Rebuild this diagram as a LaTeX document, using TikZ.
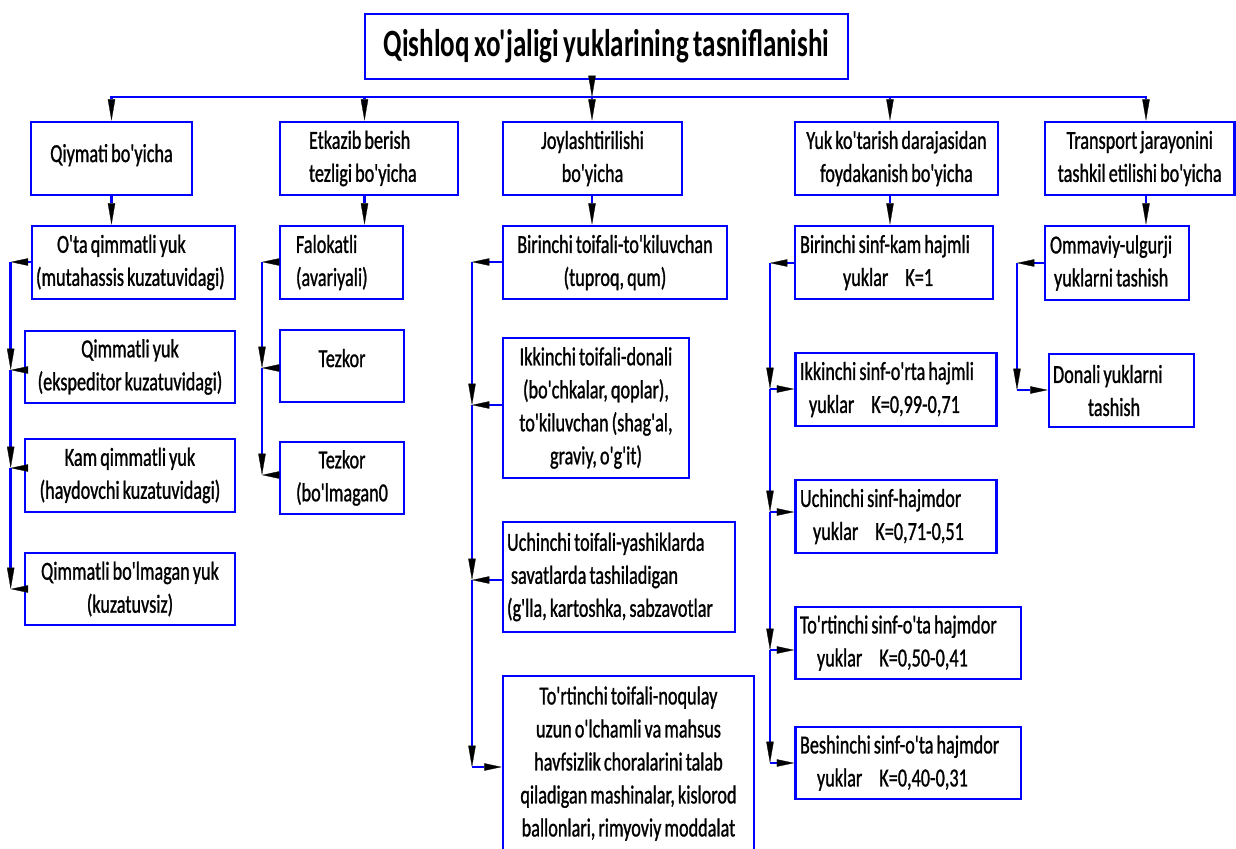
\documentclass[tikz,border=0pt]{standalone}
\usepackage{fontspec}
\setmainfont{Carlito}[FakeStretch=0.7, WordSpace=0.75, Ligatures=TeXOff,
  UprightFeatures={FakeBold=1}]
\usetikzlibrary{arrows.meta}

\definecolor{lineblue}{RGB}{0,0,255}

% one unbreakable line with the font's own word spacing
\newcommand\boxline[1]{\mbox{\spaceskip=0pt\xspaceskip=0pt\relax #1}}

\tikzset{
  conn/.style={draw=lineblue, line width=2pt},
  box/.style={draw=lineblue, line width=2pt, rectangle, inner sep=0pt,
    font=\fontsize{19.5}{24.75}\selectfont},
  % a box given by its left, top, right and bottom edges
  place/.style n args={4}{at={({(#1+#3)/2},{(#2+#4)/2})},
    minimum width={(#3-#1)*0.75pt}, minimum height={(#4-#2)*0.75pt}},
  tipdown/.style={-{Triangle[length=16pt,width=5.5pt,color=black,line width=0.2pt]}},
  tipside/.style={-{Triangle[length=13pt,width=5.5pt,color=black,line width=0.2pt]}},
  bothdown/.style={{Triangle[length=16pt,width=5.5pt,color=black,line width=0.2pt]}-{Triangle[length=16pt,width=5.5pt,color=black,line width=0.2pt]}},
}

\begin{document}
\begin{tikzpicture}[x=0.75pt,y=-0.75pt]
\useasboundingbox (0,0) rectangle (1236,849);
\fill[white] (0,0) rectangle (1236,849);
\clip (0,0) rectangle (1236,849);

% ---- title ----
\node[box, place={365}{14}{848}{79}, font=\fontsize{29}{34}\selectfont\bfseries] (title)
  {Qishloq xo'jaligi yuklarining tasniflanishi};

% ---- first level ----
\node[box, place={31}{122}{192}{195}] (a) {\raisebox{8.25pt}{Qiymati bo'yicha}};
\node[box, place={280}{122}{458}{195}, align=left, text width=90pt] (b)
  {\boxline{Etkazib berish}\\\boxline{tezligi bo'yicha}};
\node[box, place={503}{122}{682}{195}, align=center] (c) {Joylashtirilishi\\bo'yicha};
\node[box, place={795}{122}{998}{195}, align=center] (d)
  {Yuk ko'tarish darajasidan\\foydakanish bo'yicha};
\node[box, place={1045}{122}{1234.5}{195}, align=center] (e)
  {Transport jarayonini\\tashkil etilishi bo'yicha};

% ---- by value ----
\node[box, place={32}{226}{235}{299}, align=left, text width=146.25pt] (a1)
  {\boxline{\hspace*{15.75pt}O'ta qimmatli yuk}\\\boxline{(mutahassis kuzatuvidagi)}};
\node[box, place={25}{331}{235}{403}, align=center] (a2)
  {Qimmatli yuk\\(ekspeditor kuzatuvidagi)};
\node[box, place={25}{439}{235}{512}, align=center] (a3)
  {Kam qimmatli yuk\\(haydovchi kuzatuvidagi)};
\node[box, place={25}{553}{235}{625}, align=center] (a4)
  {Qimmatli bo'lmagan yuk\\(kuzatuvsiz)};

% ---- by delivery speed ----
\node[box, place={280}{226}{403}{299}, align=left, text width=68.25pt] (b1)
  {\boxline{Falokatli}\\\boxline{(avariyali)}};
\node[box, place={280}{330}{404}{402}] (b2) {\raisebox{12pt}{Tezkor}};
\node[box, place={280}{442}{404}{514}, align=center] (b3) {Tezkor\\(bo'lmagan0};

% ---- by placement ----
\node[box, place={503}{226}{727}{299}, align=center] (c1)
  {Birinchi toifali-to'kiluvchan\\(tuproq, qum)};
\node[box, place={503}{338}{689}{478}, align=center] (c2)
  {Ikkinchi toifali-donali\\(bo'chkalar, qoplar),\\to'kiluvchan (shag'al,\\graviy, o'g'it)};
\node[box, place={503}{522}{735}{632}, align=left, text width=168pt] (c3)
  {\boxline{Uchinchi toifali-yashiklarda}\\\boxline{\hspace*{3pt}savatlarda tashiladigan}\\\boxline{(g'lla, kartoshka, sabzavotlar}};
\node[box, place={503}{676}{754}{851}, align=center] (c4)
  {To'rtinchi toifali-noqulay\\uzun o'lchamli va mahsus\\havfsizlik choralarini talab\\qiladigan mashinalar, kislorod\\ballonlari, rimyoviy moddalat};

% ---- by load capacity use ----
\node[box, place={795}{226}{993}{299}, align=left, text width=141pt] (d1)
  {\boxline{Birinchi sinf-kam hajmli}\\\boxline{\hspace*{32.25pt}yuklar\hspace{12.75pt}K=1}};
\node[box, place={795.5}{353}{996.5}{426}, align=left, text width=144pt] (d2)
  {\boxline{Ikkinchi sinf-o'rta hajmli}\\\boxline{\hspace*{6.75pt}yuklar\hspace{12.75pt}K=0,99-0,71}};
\node[box, place={795.5}{480}{996.5}{553}, align=left, text width=144pt] (d3)
  {\boxline{Uchinchi sinf-hajmdor}\\\boxline{\hspace*{9.75pt}yuklar\hspace{12.75pt}K=0,71-0,51}};
\node[box, place={795.5}{607}{1021}{679}, align=left, text width=162.4pt] (d4)
  {\boxline{To'rtinchi sinf-o'ta hajmdor}\\\boxline{\hspace*{12.75pt}yuklar\hspace{12.75pt}K=0,50-0,41}};
\node[box, place={795.5}{727}{1021}{799}, align=left, text width=162.4pt] (d5)
  {\boxline{Beshinchi sinf-o'ta hajmdor}\\\boxline{\hspace*{12.75pt}yuklar\hspace{12.75pt}K=0,40-0,31}};

% ---- by transport process ----
\node[box, place={1045}{226}{1189}{300}, align=left, text width=100.5pt] (e1)
  {\boxline{Ommaviy-ulgurji}\\\boxline{\hspace*{3pt}yuklarni tashish}};
\node[box, place={1049}{354}{1194}{427}, align=left, text width=102.75pt] (e2)
  {\boxline{Donali yuklarni}\\\boxline{\hspace*{26.25pt}tashish}};

% ---- column and bus coordinates ----
\coordinate (bus) at (0,97);
\coordinate (xa) at (111.5,0);
\coordinate (xb) at (364.5,0);
\coordinate (xc) at (592,0);
\coordinate (xd) at (890,0);
\coordinate (xe) at (1146,0);

\coordinate (ja1) at (10.7,262);
\coordinate (ja2) at (10.7,370);
\coordinate (ja3) at (10.7,468);
\coordinate (ja4) at (10.7,589);
\coordinate (jb1) at (262,262);
\coordinate (jb2) at (262,368);
\coordinate (jb3) at (262,475);
\coordinate (jc1) at (472,262);
\coordinate (jc2) at (472,405);
\coordinate (jc3) at (472,580);
\coordinate (jc4) at (472,767);
\coordinate (jd1) at (770,263);
\coordinate (jd2) at (770,389);
\coordinate (jd3) at (770,512);
\coordinate (jd4) at (770,650);
\coordinate (jd5) at (770,763);
\coordinate (je1) at (1017,263);
\coordinate (je2) at (1017,390);

% ---- title to first level ----
\draw[conn, bothdown] (xa |- a.north) -- (xa |- bus) -- (xe |- bus) -- (xe |- e.north);
\draw[conn, tipdown] (xc |- title.south) -- (xc |- bus);
\draw[conn, tipdown] (xb |- bus) -- (xb |- b.north);
\draw[conn, tipdown] (xc |- bus) -- (xc |- c.north);
\draw[conn, tipdown] (xd |- bus) -- (xd |- d.north);

% ---- first level to first child ----
\draw[conn, tipdown] (xa |- a.south) -- (xa |- a1.north);
\draw[conn, tipdown] (xb |- b.south) -- (xb |- b1.north);
\draw[conn, tipdown] (xc |- c.south) -- (xc |- c1.north);
\draw[conn, tipdown] (xd |- d.south) -- (xd |- d1.north);
\draw[conn, tipdown] (xe |- e.south) -- (xe |- e1.north);

% ---- side buses: by value ----
\draw[conn, tipside] (ja1 -| a1.west) -- (ja1);
\draw[conn, tipdown] (ja1) -- (ja2);
\draw[conn, tipdown] (ja2) -- (ja3);
\draw[conn, tipdown] (ja3) -- (ja4);
\draw[conn, tipside] (ja2 -| a2.west) -- (ja2);
\draw[conn, tipside] (ja3 -| a3.west) -- (ja3);
\draw[conn, tipside] (ja4 -| a4.west) -- (ja4);

% ---- side buses: by delivery speed ----
\draw[conn, tipside] (jb1 -| b1.west) -- (jb1);
\draw[conn, tipdown] (jb1) -- (jb2);
\draw[conn, tipdown] (jb2) -- (jb3);
\draw[conn, tipside] (jb2 -| b2.west) -- (jb2);
\draw[conn, tipside] (jb3 -| b3.west) -- (jb3);

% ---- side buses: by placement ----
\draw[conn, tipside] (jc1 -| c1.west) -- (jc1);
\draw[conn, tipdown] (jc1) -- (jc2);
\draw[conn, tipdown] (jc2) -- (jc3);
\draw[conn, tipdown] (jc3) -- (jc4);
\draw[conn, tipside] (jc2 -| c2.west) -- (jc2);
\draw[conn, tipside] (jc3 -| c3.west) -- (jc3);
\draw[conn, tipside] (jc4) -- (jc4 -| c4.west);

% ---- side buses: by load capacity use ----
\draw[conn, tipside] (jd1 -| d1.west) -- (jd1);
\draw[conn, tipdown] (jd1) -- (jd2);
\draw[conn, tipdown] (jd2) -- (jd3);
\draw[conn, tipdown] (jd3) -- (jd4);
\draw[conn, tipdown] (jd4) -- (jd5);
\draw[conn, tipside] (jd2) -- (jd2 -| d2.west);
\draw[conn, tipside] (jd3) -- (jd3 -| d3.west);
\draw[conn, tipside] (jd4) -- (jd4 -| d4.west);
\draw[conn, tipside] (jd5) -- (jd5 -| d5.west);

% ---- side buses: by transport process ----
\draw[conn, tipside] (je1 -| e1.west) -- (je1);
\draw[conn, tipdown] (je1) -- (je2);
\draw[conn, tipside] (je2) -- (je2 -| e2.west);
\end{tikzpicture}
\end{document}
